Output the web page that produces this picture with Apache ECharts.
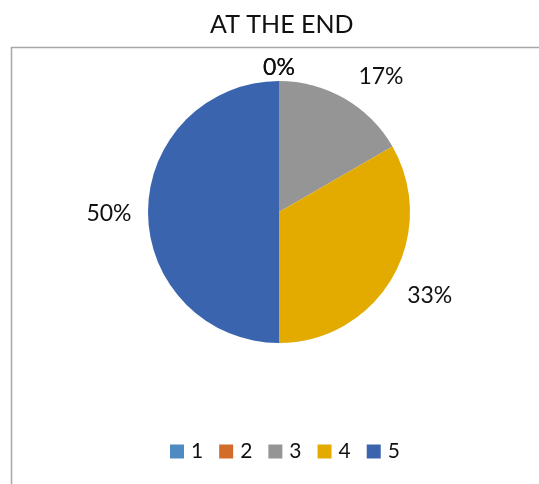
<!DOCTYPE html>
<html>
<head>
<meta charset="utf-8">
<title>AT THE END</title>
<script src="https://cdn.jsdelivr.net/npm/echarts@6/dist/echarts.min.js"></script>
<style>
  html, body { margin: 0; padding: 0; background: #fff; }
  #chart { width: 539px; height: 484px; }
</style>
</head>
<body>
<div id="chart"></div>
<script>
// Answer categories and their counts
const categories = ['1', '2', '3', '4', '5'];
const counts = [0, 0, 1, 2, 3];
const colors = ['#4F8BC1', '#D26C2A', '#959595', '#E3AA00', '#3A64AD'];

const total = counts.reduce((a, b) => a + b, 0);
const pieData = categories.map((name, i) => ({ name: name, value: counts[i] }));
const FONT = 'Lato, "Open Sans", sans-serif';

const chart = echarts.init(document.getElementById('chart'), null, { renderer: 'canvas' });

chart.setOption({
  animation: false,
  backgroundColor: '#ffffff',
  color: colors,
  title: {
    text: 'AT THE END',
    left: 205,
    top: 7,
    textStyle: { fontFamily: FONT, fontSize: 25, fontWeight: 'normal', color: '#111' }
  },
  graphic: [{
    type: 'polyline',
    silent: true,
    shape: { points: [[11.5, 484], [11.5, 47.5], [539, 47.5]] },
    style: { stroke: '#a6a6a6', lineWidth: 1.5, fill: null }
  }],
  legend: {
    data: categories,
    bottom: 17,
    left: 165,
    itemWidth: 14,
    itemHeight: 14,
    itemGap: 16,
    icon: 'rect',
    textStyle: { fontFamily: FONT, fontSize: 21, color: '#111', padding: [0, 0, 0, 2] }
  },
  series: [
    {
      // the pie itself
      type: 'pie',
      center: [279, 212],
      radius: 131,
      startAngle: 90,
      clockwise: true,
      avoidLabelOverlap: false,
      label: { show: false },
      labelLine: { show: false },
      itemStyle: { borderWidth: 0 },
      emphasis: { disabled: true },
      data: pieData
    },
    {
      // transparent ring that carries the percentage labels
      type: 'pie',
      center: [279, 212],
      radius: [160, 182],
      startAngle: 90,
      clockwise: true,
      silent: true,
      avoidLabelOverlap: false,
      legendHoverLink: false,
      itemStyle: { color: 'rgba(0,0,0,0)', borderWidth: 0 },
      emphasis: { disabled: true },
      label: {
        show: true,
        position: 'inside',
        fontFamily: FONT,
        fontSize: 23,
        color: '#111',
        formatter: p => Math.round(p.value / total * 100) + '%'
      },
      labelLine: { show: false },
      labelLayout: function (p) {
        if (counts[p.dataIndex] === 0) return { dy: 30 };
        if (p.dataIndex === 2) return { dx: 15, dy: 15 };
        if (p.dataIndex === 3) return { dy: -3 };
        if (p.dataIndex === 4) return { dx: 4, dy: 2 };
        return {};
      },
      data: pieData
    }
  ]
});
</script>
</body>
</html>
